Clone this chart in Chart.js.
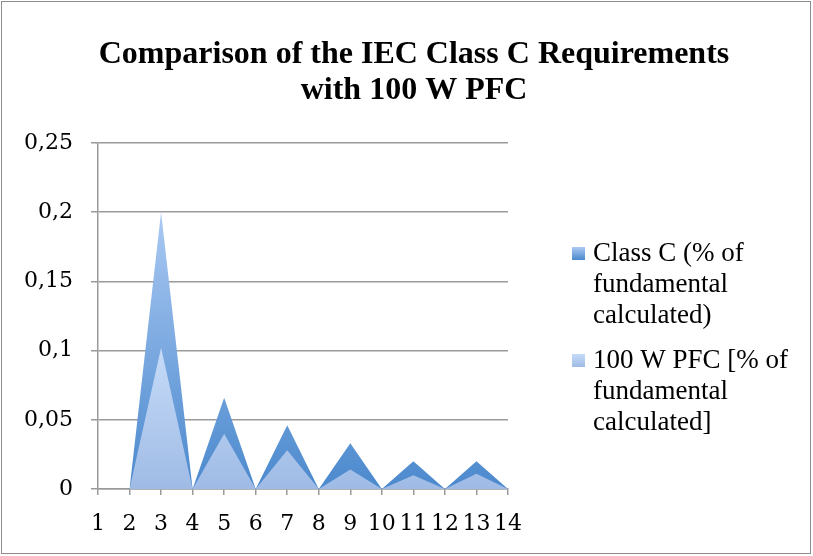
<!DOCTYPE html>
<html>
<head>
<meta charset="utf-8">
<script src="https://cdn.jsdelivr.net/npm/chart.js@4.4.1/dist/chart.umd.min.js"></script>
<style>
  html, body { margin: 0; padding: 0; background: #fff; }
  #wrap { width: 813px; height: 556px; position: relative; }
</style>
</head>
<body>
<div id="wrap"><canvas id="chart"></canvas></div>
<script>
const categories = ['1', '2', '3', '4', '5', '6', '7', '8', '9', '10', '11', '12', '13', '14'];
const classC = [null, 0, 0.2, 0, 0.066, 0, 0.046, 0, 0.033, 0, 0.02, 0, 0.02, 0];
const pfc100 = [null, 0, 0.102, 0, 0.04, 0, 0.028, 0, 0.014, 0, 0.01, 0, 0.011, 0];
const yTicks = [0, 0.05, 0.1, 0.15, 0.2, 0.25];
const titleLines = ['Comparison of the IEC Class C Requirements', 'with 100 W PFC'];
const legendLines = [
  ['Class C (% of', 'fundamental', 'calculated)'],
  ['100 W PFC [% of', 'fundamental', 'calculated]']
];

const classCColors = ['#abc9f3', '#4b89cd'];
const pfcColors = ['#c6dbf8', '#9fbbe5'];
const tickFont = { family: '"DejaVu Serif"', size: 22 };

// vertical gradient from the series' peak down to zero
function areaGradient(colors, values) {
  const peak = Math.max(...values.filter(v => v !== null));
  return (ctx) => {
    const chart = ctx.chart;
    if (!chart.chartArea) return colors[1];
    const y = chart.scales.y;
    const g = chart.ctx.createLinearGradient(0, y.getPixelForValue(peak), 0, y.getPixelForValue(0));
    g.addColorStop(0, colors[0]);
    g.addColorStop(1, colors[1]);
    return g;
  };
}

const decor = {
  id: 'decor',
  afterDraw(chart) {
    const c = chart.ctx;
    c.save();
    // frame
    c.strokeStyle = '#8c8c8c';
    c.lineWidth = 1;
    c.strokeRect(1.5, 1.5, 809, 552);
    // title
    c.fillStyle = '#000';
    c.textAlign = 'center';
    c.textBaseline = 'alphabetic';
    c.font = 'bold 32px "Liberation Serif"';
    titleLines.forEach((t, i) => c.fillText(t, 414, 63 + i * 36));
    // legend
    const swatches = [classCColors, pfcColors];
    const tops = [247, 354];
    c.textAlign = 'left';
    c.font = '27px "Liberation Serif"';
    legendLines.forEach((lines, i) => {
      const g = c.createLinearGradient(0, tops[i], 0, tops[i] + 13);
      g.addColorStop(0, swatches[i][0]);
      g.addColorStop(1, swatches[i][1]);
      c.fillStyle = g;
      c.fillRect(572, tops[i], 13, 13);
      c.fillStyle = '#000';
      lines.forEach((t, j) => c.fillText(t, 593, tops[i] + 14 + j * 31));
    });
    c.restore();
  }
};

function draw() {
  new Chart(document.getElementById('chart'), {
    type: 'line',
    data: {
      labels: categories,
      datasets: [
        {
          label: legendLines[0].join(' '),
          data: classC,
          fill: 'origin',
          backgroundColor: areaGradient(classCColors, classC),
          borderWidth: 0,
          pointRadius: 0,
          tension: 0,
          order: 2
        },
        {
          label: legendLines[1].join(' '),
          data: pfc100,
          fill: 'origin',
          backgroundColor: areaGradient(pfcColors, pfc100),
          borderWidth: 0,
          pointRadius: 0,
          tension: 0,
          order: 1
        }
      ]
    },
    options: {
      responsive: true,
      maintainAspectRatio: false,
      animation: false,
      layout: { padding: { top: 143, right: 305, bottom: 0, left: 0 } },
      plugins: {
        legend: { display: false },
        title: { display: false },
        tooltip: { enabled: false }
      },
      scales: {
        x: {
          offset: false,
          afterFit: s => { s.height = 67; },
          grid: { drawOnChartArea: false, drawTicks: true, tickLength: 6, color: '#9a9a9a', lineWidth: 1.5 },
          border: { color: '#9a9a9a', width: 1.5 },
          ticks: { color: '#000', font: tickFont, padding: 16, maxRotation: 0, autoSkip: false }
        },
        y: {
          min: 0,
          max: 0.25,
          afterFit: s => { s.width = 98; },
          afterBuildTicks: s => { s.ticks = yTicks.map(v => ({ value: v })); },
          grid: { color: '#9a9a9a', lineWidth: 1.5, tickLength: 7 },
          border: { color: '#9a9a9a', width: 1.5 },
          ticks: {
            color: '#000',
            font: tickFont,
            padding: 18,
            callback: v => String(v).replace('.', ',')
          }
        }
      }
    },
    plugins: [decor]
  });
}

Promise.all([
  document.fonts.load('22px "DejaVu Serif"'),
  document.fonts.load('27px "Liberation Serif"'),
  document.fonts.load('bold 32px "Liberation Serif"')
]).then(draw, draw);
</script>
</body>
</html>
